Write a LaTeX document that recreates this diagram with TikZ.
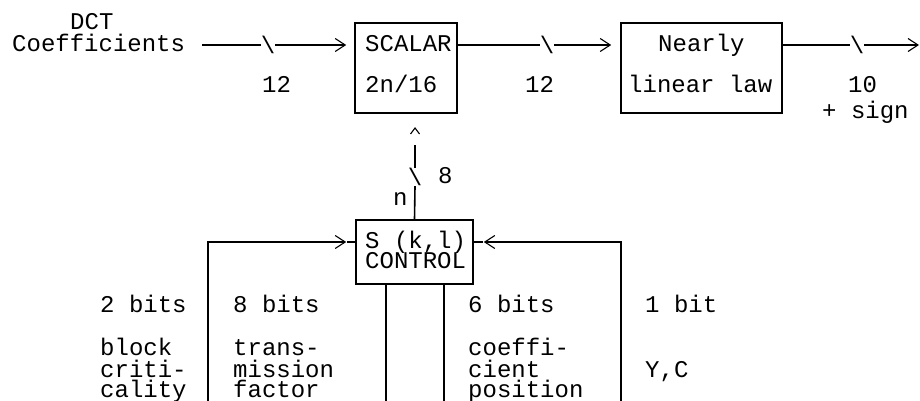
\documentclass[tikz,border=0pt]{standalone}
\usepackage{fontspec}
\newfontfamily\monofam{Liberation Mono}
\usetikzlibrary{arrows.meta,calc}
\begin{document}
\begin{tikzpicture}[x=1pt,y=-1pt,
  txt/.style={inner sep=0pt, anchor=base west, font=\monofam\fontsize{24}{24}\selectfont},
  cut/.style={inner sep=0pt, font=\monofam\fontsize{24}{24}\selectfont},
  blk/.style={draw, line width=1.6pt, rectangle, inner sep=0pt},
  wire/.style={line width=1.6pt},
  tip/.style={-{Straight Barb[length=10pt,width=13pt,line width=1.1pt]}},
]
\useasboundingbox (0,0) rectangle (920,401);

% processing blocks
\node[blk, minimum width=102pt, minimum height=90pt] (scalar) at (406,68) {};
\node[blk, minimum width=161pt, minimum height=90pt] (law) at (701.5,68) {};
\node[blk, minimum width=117pt, minimum height=64pt] (ctrl) at (414.5,252) {};

% block texts
\node[txt] (tscalar) at (365,52) {SCALAR};
\node[txt] (tfrac) at (365,93) {2n/16};
\node[txt] (tnearly) at (658,52) {Nearly};
\node[txt] (tlinear) at (628,93) {linear law};
\node[txt] (tsk) at (365,248) {S (k,l)};
\node[txt] (tctrl) at (365,268) {CONTROL};

% input label
\node[txt] (tdct) at (70,30) {DCT};
\node[txt] (tcoef) at (12,52) {Coefficients};

% bus-width markers
\node[cut] (s1) at (268,45) {\textbackslash};
\node[cut] (s2) at (547,45) {\textbackslash};
\node[cut] (s3) at (857,45) {\textbackslash};
\node[cut] (s4) at (415,177) {\textbackslash};

% main signal path
\coordinate (in) at (202,45);
\coordinate (out) at (919,45);
\draw[wire] (in) -- (s1.west);
\draw[wire, tip, shorten >=8pt] (s1.east) -- (in -| scalar.west);
\draw[wire] (in -| scalar.east) -- (s2.west);
\draw[wire, tip, shorten >=9pt] (s2.east) -- (in -| law.west);
\draw[wire] (in -| law.east) -- (s3.west);
\draw[wire, tip] (s3.east) -- (out);

\node[txt] (w1) at (262,93) {12};
\node[txt] (w2) at (525,93) {12};
\node[txt] (w3) at (848,93) {10};
\node[txt] (w3b) at (822,118) {+ sign};

% control output n to the scaler
\coordinate (up) at (415,145);
\draw[wire] (ctrl.north) -- (s4.south);
\draw[wire] (s4.north) -- (up);
\draw[line width=1.1pt] ($(up)+(-4.5,-11)$) -- ($(up)+(0,-17)$) -- ($(up)+(4.5,-11)$);
\node[txt] (w4) at (438,183) {8};
\node[txt] (tn) at (393,205) {n};

% control inputs
\coordinate (fl) at (208,242);
\coordinate (fr) at (621,242);
\coordinate (bl) at (208,401);
\coordinate (br) at (621,401);
\coordinate (d1) at (386,401);
\coordinate (d2) at (444,401);
\draw[wire, tip, shorten >=9pt] (bl) -- (fl) -- (fl -| ctrl.west);
\draw[wire] (fl -| ctrl.west) -- ++(-8,0);
\draw[wire, tip, shorten >=10pt] (br) -- (fr) -- (fr -| ctrl.east);
\draw[wire] (fr -| ctrl.east) -- ++(9,0);
\draw[wire] (ctrl.south -| d1) -- (d1);
\draw[wire] (ctrl.south -| d2) -- (d2);

% input descriptions
\node[txt] (b1) at (100,312) {2 bits};
\node[txt] (b1a) at (100,355) {block};
\node[txt] (b1b) at (100,377) {criti-};
\node[txt] (b1c) at (100,397) {cality};

\node[txt] (b2) at (233,312) {8 bits};
\node[txt] (b2a) at (233,355) {trans-};
\node[txt] (b2b) at (233,377) {mission};
\node[txt] (b2c) at (233,397) {factor};

\node[txt] (b3) at (468,312) {6 bits};
\node[txt] (b3a) at (468,355) {coeffi-};
\node[txt] (b3b) at (468,377) {cient};
\node[txt] (b3c) at (468,397) {position};

\node[txt] (b4) at (645,312) {1 bit};
\node[txt] (b4a) at (645,377) {Y,C};
\end{tikzpicture}
\end{document}
